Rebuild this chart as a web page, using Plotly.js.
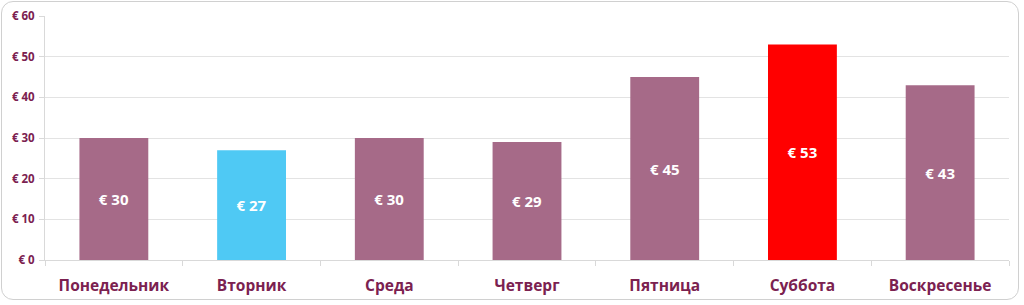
<!DOCTYPE html>
<html><head><meta charset="utf-8">
<script src="https://cdn.plot.ly/plotly-3.0.1.min.js"></script>
<style>
html,body{margin:0;padding:0;background:#fff;}
#frame{position:absolute;left:1px;top:1px;width:1018px;height:299px;border:1.5px solid #d0d0d0;border-radius:12px;box-sizing:border-box;}
#chart{position:absolute;left:0;top:0;width:1024px;height:305px;}
</style></head><body>
<div id="frame"></div>
<div id="chart"></div>
<script>
const days = ["Понедельник","Вторник","Среда","Четверг","Пятница","Суббота","Воскресенье"];
const amounts = [30, 27, 30, 29, 45, 53, 43];
const barColors = ["#A66A88","#4FC9F4","#A66A88","#A66A88","#A66A88","#FF0000","#A66A88"];
const yTicks = [0,10,20,30,40,50,60];
const labelColor = "#7B2150";

const trace = {
  type: "bar",
  x: days,
  y: amounts,
  marker: {color: barColors},
  width: 0.5,
  text: amounts.map(v => "€ " + v),
  textposition: "inside",
  insidetextanchor: "middle",
  textangle: 0,
  textfont: {family: "Open Sans, sans-serif", size: 15, color: "#ffffff", weight: "bold"},
  hoverinfo: "none"
};

const layout = {
  width: 1024, height: 305,
  margin: {l: 45, r: 15, t: 16, b: 45},
  paper_bgcolor: "rgba(0,0,0,0)",
  plot_bgcolor: "rgba(0,0,0,0)",
  showlegend: false,
  bargap: 0.5,
  xaxis: {
    type: "category",
    showline: true, linecolor: "#d9d9d9", linewidth: 1,
    ticks: "outside", tickson: "boundaries", ticklen: 5, tickcolor: "#d9d9d9",
    tickfont: {family: "Open Sans, sans-serif", size: 15.5, color: labelColor, weight: "bold"},
    ticklabelstandoff: 11,
    showgrid: false
  },
  yaxis: {
    range: [0, 60],
    tickvals: yTicks,
    ticktext: yTicks.map(v => "€ " + v),
    showline: true, linecolor: "#d9d9d9", linewidth: 1,
    ticks: "outside", ticklen: 5, tickcolor: "#d9d9d9",
    showgrid: true, gridcolor: "#e3e3e3", gridwidth: 1,
    zeroline: false,
    tickfont: {family: "Open Sans, sans-serif", size: 11.5, color: labelColor, weight: "bold"},
    ticklabelstandoff: 2
  }
};

Plotly.newPlot("chart", [trace], layout, {displayModeBar: false, staticPlot: true});
</script>
</body></html>
